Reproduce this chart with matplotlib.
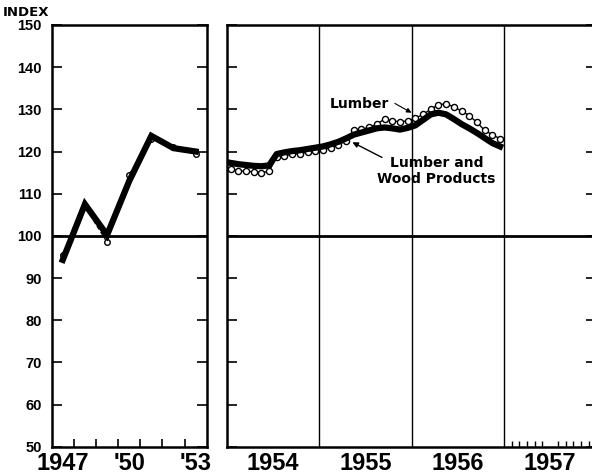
import numpy as np
import matplotlib
matplotlib.use("Agg")
import matplotlib.pyplot as plt

# annual index, 1947-1953
years = [1947, 1948, 1949, 1950, 1951, 1952, 1953]
lwp_annual = [94.3, 107.5, 100.2, 113.0, 123.7, 120.8, 120.0]
lumber_annual = [95.5, 107.0, 98.5, 114.5, 123.0, 121.0, 119.5]

# monthly index, Jan 1954 - Dec 1956
lwp_monthly = [117.3, 117.0, 116.8, 116.6, 116.5, 116.7, 119.4, 119.8, 120.1, 120.3, 120.6, 120.9,
               121.2, 121.7, 122.3, 123.1, 124.0, 124.5, 125.0, 125.5, 125.7, 125.5, 125.2, 125.6,
               126.2, 127.5, 128.8, 129.2, 128.8, 127.7, 126.5, 125.5, 124.4, 123.2, 122.0, 121.2]
lumber_monthly = [115.8, 115.4, 115.3, 115.2, 115.0, 115.3, 118.8, 119.0, 119.3, 119.5, 119.8, 120.1,
                  120.3, 120.9, 121.6, 122.6, 125.0, 125.3, 125.7, 126.5, 127.7, 127.2, 127.1, 127.2,
                  127.9, 128.8, 130.0, 131.1, 131.3, 130.6, 129.6, 128.5, 126.9, 125.0, 124.0, 123.0]

left_labels = ["1947", "'50", "'53"]
right_labels = ["1954", "1955", "1956", "1957"]
yticks = list(range(50, 151, 10))

W, H = 592, 476
fig = plt.figure(figsize=(W / 100, H / 100), dpi=100)
fig.patch.set_facecolor("white")

bot = (H - 446.7) / H
hgt = (446.7 - 25) / H
ax1 = fig.add_axes([51.7 / W, bot, 155 / W, hgt])
ax2 = fig.add_axes([226.7 / W, bot, 369.6 / W, hgt])

year_font = dict(family=["Liberation Sans", "DejaVu Sans"], weight="bold", size=17)

for ax in (ax1, ax2):
    ax.set_ylim(50, 150)
    ax.set_yticks(yticks)
    ax.tick_params(axis="y", direction="in", length=7, width=1.2, left=True, right=True)
    ax.tick_params(axis="x", which="major", length=0, pad=3.5)
    ax.tick_params(axis="x", which="minor", direction="in", length=6, width=1.2)
    for s in ax.spines.values():
        s.set_linewidth(1.8)
    ax.axhline(100, color="black", lw=2, zorder=1)

# left panel
ax1.set_xlim(1946.5, 1953.5)
ax1.set_xticks([1947, 1950, 1953])
ax1.set_xticklabels(left_labels, fontdict=year_font)
ax1.set_xticks(np.arange(1947.5, 1953, 1), minor=True)
ax1.set_yticklabels([str(v) for v in yticks], family=["Liberation Sans", "DejaVu Sans"],
                    fontsize=10.5, fontweight="bold")
ax1.tick_params(axis="y", pad=7)
ax1.plot(years, lumber_annual, color="black", lw=1, ls=(0, (3, 2)),
         marker="o", ms=4, mfc="white", mec="black", mew=1, zorder=2)
ax1.plot(years, lwp_annual, color="black", lw=4.5, solid_joinstyle="miter", zorder=3)

# right panel
ax2.set_xlim(1954, 1958)
ax2.set_xticks([1954.5, 1955.5, 1956.5, 1957.5])
ax2.set_xticklabels(right_labels, fontdict=year_font)
ax2.set_xticks(1957 + np.arange(1, 13) / 12, minor=True)
ax2.tick_params(axis="x", which="minor", length=4, width=1)
ax2.set_yticklabels([])
for yr in (1955, 1956, 1957):
    ax2.axvline(yr, color="black", lw=1, zorder=1)

mx = 1954 + (np.arange(len(lwp_monthly)) + 0.5) / 12
ax2.plot(mx, lumber_monthly, color="black", lw=1,
         marker="o", ms=4.4, mfc="white", mec="black", mew=1, zorder=2)
ax2.plot(mx, lwp_monthly, color="black", lw=4.5, zorder=3)

ann_font = dict(fontsize=10, fontweight="bold")
ax2.text(1955.44, 131.2, "Lumber", ha="center", va="center", **ann_font)
ax2.annotate("", xy=(1956.0, 129.2), xytext=(1955.82, 131.4),
             arrowprops=dict(arrowstyle="-|>", color="black", lw=0.8,
                             mutation_scale=7, shrinkA=0, shrinkB=0))
ax2.text(1956.27, 115.4, "Lumber and\nWood Products", ha="center", va="center",
         linespacing=1.15, **ann_font)
ax2.annotate("", xy=(1955.36, 122.2), xytext=(1955.68, 118.6),
             arrowprops=dict(arrowstyle="-|>", color="black", lw=1,
                             mutation_scale=8, shrinkA=0, shrinkB=0))

fig.text(3 / W, 1 - 13 / H, "INDEX", fontsize=9.5, fontweight="bold", va="center", ha="left")

fig.savefig("out.png", dpi=100, facecolor="white")
